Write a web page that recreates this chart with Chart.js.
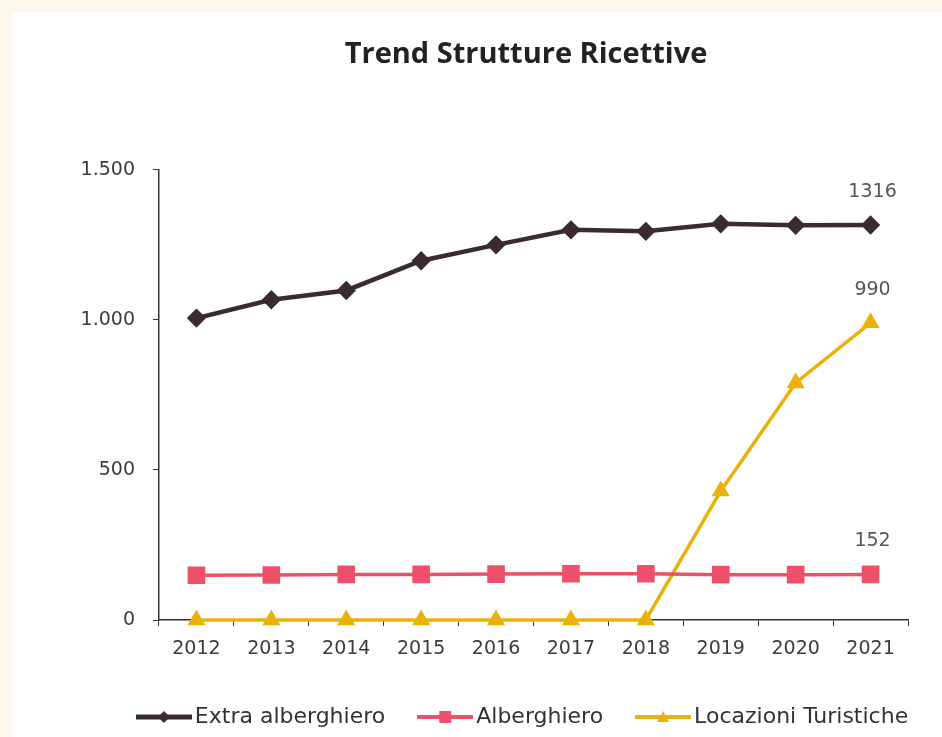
<!DOCTYPE html>
<html>
<head>
<meta charset="utf-8">
<script src="https://cdn.jsdelivr.net/npm/chart.js@4.4.0/dist/chart.umd.min.js"></script>
<style>
    html, body { margin: 0; padding: 0; background: #fcf8ec; overflow: hidden; }
    .panel { position: absolute; left: 12px; top: 12px; width: 930px; height: 725px; background: #fff; overflow: hidden; }
</style>
</head>
<body>
<div class="panel"><canvas id="trendChart" width="1000" height="730"></canvas></div>
<script>
const years = ['2012', '2013', '2014', '2015', '2016', '2017', '2018', '2019', '2020', '2021']
const extraAlberghiero = [1006, 1067, 1098, 1197, 1250, 1300, 1295, 1320, 1315, 1316]
const alberghiero = [149, 150, 152, 152, 153, 154, 154, 151, 151, 152]
const locazioniTuristiche = [0, 0, 0, 0, 0, 0, 0, 430, 790, 990]
const yTicks = [0, 500, 1000, 1500]

const darkColor = '#3a2b31'
const pinkColor = '#ef5069'
const goldColor = '#e9b10a'
const tickFont = '"DejaVu Sans", sans-serif'
const titleFont = '"Open Sans", "Noto Sans", sans-serif'

const formatNum = (v) => String(v).replace(/\B(?=(\d{3})+(?!\d))/g, '.')

// line + marker icons for the legend
const makeIcon = (color, shape, lineWidth) => {
    const c = document.createElement('canvas')
    c.width = 56
    c.height = 18
    const ctx = c.getContext('2d')
    ctx.strokeStyle = color
    ctx.fillStyle = color
    ctx.lineWidth = lineWidth
    ctx.beginPath()
    ctx.moveTo(0, 9)
    ctx.lineTo(56, 9)
    ctx.stroke()
    ctx.beginPath()
    if (shape === 'diamond') {
        ctx.moveTo(28, 3); ctx.lineTo(34, 9); ctx.lineTo(28, 15); ctx.lineTo(22, 9)
    } else if (shape === 'square') {
        ctx.rect(22, 3, 12, 12)
    } else {
        ctx.moveTo(28, 3); ctx.lineTo(34, 14); ctx.lineTo(22, 14)
    }
    ctx.closePath()
    ctx.fill()
    return c
}
const legendIcons = [
    makeIcon(darkColor, 'diamond', 5),
    makeIcon(pinkColor, 'square', 4),
    makeIcon(goldColor, 'triangle', 4)
]

const lastValueLabels = {
    id: 'lastValueLabels',
    afterDatasetsDraw(chart) {
        const ctx = chart.ctx
        ctx.save()
        ctx.font = '19px ' + tickFont
        ctx.fillStyle = '#555'
        ctx.textAlign = 'center'
        ctx.textBaseline = 'middle'
        chart.data.datasets.forEach((ds, i) => {
            const pts = chart.getDatasetMeta(i).data
            const p = pts[pts.length - 1]
            ctx.fillText(String(ds.data[ds.data.length - 1]), p.x + 2, p.y - 33)
        })
        ctx.restore()
    }
}

new Chart('trendChart', {
    type: 'line',
    data: {
        labels: years,
        datasets: [{
            label: 'Extra alberghiero',
            data: extraAlberghiero,
            borderColor: darkColor,
            backgroundColor: darkColor,
            borderWidth: 4.5,
            pointStyle: 'rectRot',
            pointRadius: 6.5,
            pointHoverRadius: 6.5,
            clip: false
        }, {
            label: 'Alberghiero',
            data: alberghiero,
            borderColor: pinkColor,
            backgroundColor: pinkColor,
            borderWidth: 3.5,
            pointStyle: 'rect',
            pointRadius: 10,
            pointHoverRadius: 10,
            clip: false
        }, {
            label: 'Locazioni Turistiche',
            data: locazioniTuristiche,
            borderColor: goldColor,
            backgroundColor: goldColor,
            borderWidth: 3.5,
            pointStyle: 'triangle',
            pointRadius: 7,
            pointHoverRadius: 7,
            clip: false
        }]
    },
    options: {
        responsive: false,
        animation: false,
        layout: { padding: { left: 40, right: 12, top: 0, bottom: 4 } },
        scales: {
            x: {
                offset: true,
                grid: { offset: true, drawOnChartArea: false, tickLength: 6, color: '#333' },
                border: { color: '#333', width: 1.5 },
                ticks: { color: '#3c3c3c', padding: 12, font: { family: tickFont, size: 19 } },
                afterFit: (scale) => { scale.height = 46 }
            },
            y: {
                min: 0,
                max: 1500,
                afterBuildTicks: (scale) => { scale.ticks = yTicks.map(v => ({ value: v })) },
                grid: { drawOnChartArea: false, tickLength: 6, color: '#333' },
                border: { color: '#333', width: 1.5 },
                ticks: {
                    color: '#3c3c3c',
                    padding: 18,
                    font: { family: tickFont, size: 19 },
                    callback: (v) => formatNum(v)
                },
                afterFit: (scale) => { scale.width = 107 }
            },
            // empty right axis, only reserves room so title and legend centre like the original
            yRight: {
                axis: 'y',
                position: 'right',
                grid: { display: false },
                border: { display: false },
                ticks: { display: false },
                afterFit: (scale) => { scale.width = 92 }
            }
        },
        plugins: {
            title: {
                display: true,
                text: 'Trend Strutture Ricettive',
                color: '#222',
                font: { family: titleFont, size: 29, weight: 'bold' },
                padding: { top: 25, bottom: 98 }
            },
            legend: {
                position: 'bottom',
                labels: {
                    usePointStyle: true,
                    pointStyleWidth: 40,
                    padding: 40,
                    color: '#333',
                    font: { family: tickFont, size: 22 },
                    generateLabels: (chart) => {
                        const items = Chart.defaults.plugins.legend.labels.generateLabels(chart)
                        items.forEach((item, i) => { item.pointStyle = legendIcons[i] })
                        return items
                    }
                }
            },
            tooltip: { enabled: false }
        }
    },
    plugins: [lastValueLabels]
})
</script>
</body>
</html>
